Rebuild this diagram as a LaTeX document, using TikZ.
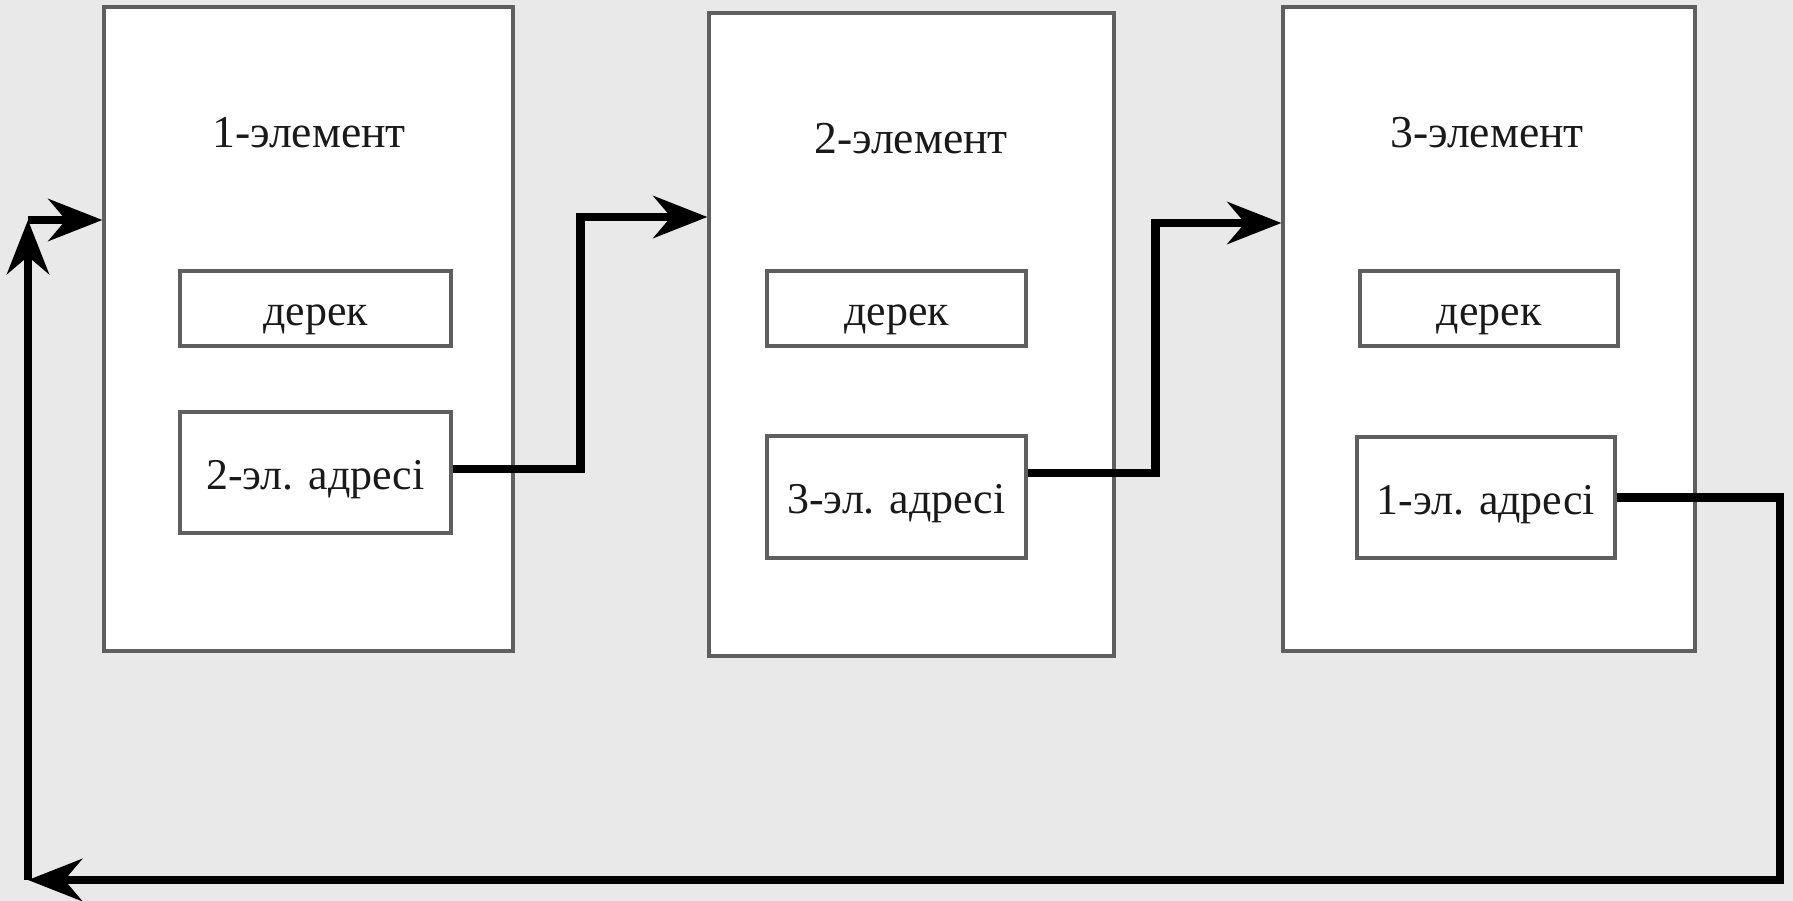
\documentclass[tikz,border=0pt]{standalone}
\usepackage{fontspec}
\setmainfont{Liberation Serif}
\usetikzlibrary{arrows.meta, positioning, calc}
\definecolor{bgcolor}{RGB}{233,233,233}
\definecolor{framecolor}{RGB}{95,95,95}
\definecolor{textcolor}{RGB}{25,25,25}

\begin{document}
\begin{tikzpicture}[
    element/.style={draw=framecolor, line width=0.9pt, fill=white},
    field/.style={draw=framecolor, line width=0.9pt, fill=white, text height=0.4cm, text depth=0.07cm, text=textcolor, font=\rmfamily\fontsize{12.5}{15}\selectfont},
    title/.style={anchor=base, text=textcolor, font=\rmfamily\fontsize{13}{15}\selectfont},
    link/.style={-{Stealth[length=5.4mm, width=4.2mm]}, line width=2.4pt, black}
]
    % Background
    \fill[bgcolor] (0,0) rectangle (17.93,-9.01);
    \useasboundingbox (0,0) rectangle (17.93,-9.01);

    % Elements
    \node[element, minimum width=4.09cm, minimum height=6.44cm] (box1) at (3.085,-3.29) {};
    \node[element, minimum width=4.05cm, minimum height=6.43cm] (box2) at (9.115,-3.345) {};
    \node[element, minimum width=4.12cm, minimum height=6.44cm] (box3) at (14.89,-3.29) {};

    % Titles
    \node[title] (title1) at (3.09,-1.48) {1-элемент};
    \node[title] (title2) at (9.11,-1.53) {2-элемент};
    \node[title] (title3) at (14.87,-1.48) {3-элемент};

    % Data fields
    \node[field, minimum width=2.71cm, minimum height=0.75cm] (data1) at (3.155,-3.085) {дерек};
    \node[field, minimum width=2.59cm, minimum height=0.75cm] (data2) at (8.965,-3.085) {дерек};
    \node[field, minimum width=2.58cm, minimum height=0.75cm] (data3) at (14.89,-3.085) {дерек};

    % Address fields
    \node[field, minimum width=2.71cm, minimum height=1.21cm] (addr1) at (3.155,-4.725) {2-эл. адресі};
    \node[field, minimum width=2.59cm, minimum height=1.22cm] (addr2) at (8.965,-4.97) {3-эл. адресі};
    \node[field, minimum width=2.58cm, minimum height=1.21cm] (addr3) at (14.86,-4.975) {1-эл. адресі};

    % Loop corners
    \coordinate (turn) at (17.80,-8.80);
    \coordinate (loopbl) at (0.28,-8.80);
    \coordinate (looptl) at (0.28,-2.20);

    % Arrows
    \draw[link] ([yshift=0.035cm]addr1.east) -- ++(1.28,0) |- ([yshift=1.175cm]box2.west);
    \draw[link] ([yshift=0.24cm]addr2.east) -- ++(1.28,0) |- ([yshift=1.06cm]box3.west);
    \draw[link] (addr3.east) -| (turn) -- (loopbl);
    \draw[link] (loopbl) -- (looptl);
    \draw[link] (looptl) -- (box1.west |- looptl);
\end{tikzpicture}
\end{document}
